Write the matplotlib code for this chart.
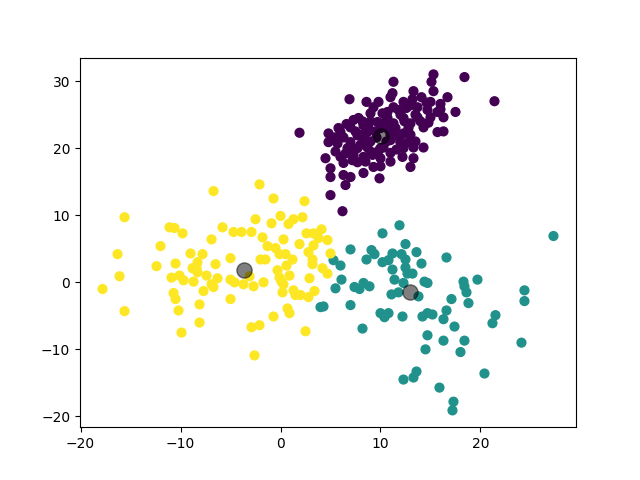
import numpy as np
import matplotlib
matplotlib.use("Agg")
import matplotlib.pyplot as plt

# cluster 0 (purple)
c0 = [(15.3,31),(18.4,30.6),(15.1,29.9),(11.3,29.9),(15.3,28.5),(13.3,28.5),(11.2,28.2),(11,27.6),
      (21.4,27),(6.9,27.3),(14.1,27.6),(16.7,27.6),(8.6,26.9),(9.8,26.9),(12.3,26.9),(15,26.9),
      (16,26.6),(9.3,26.1),(11.3,26.1),(13,26.4),(13.7,26.1),(17.5,25.4),(10.7,25.4),(11.8,25.7),
      (14.7,25.7),(15.7,25.4),(9,25.2),(7.8,24.5),(7.3,24.2),(10.7,24.5),(12.3,24.5),(13.7,24.6),
      (15,24.6),(16.3,24.6),(9.7,23.9),(11.3,23.7),(13,23.7),(14.3,23.1),(8.3,23.4),(7,23.1),
      (5.8,23),(4.8,22.2),(15.7,22.4),(16.3,22.5),(6.3,21.6),(7.7,21.9),(8.7,22.4),(11.3,22.4),
      (12.3,22.2),(4.8,20.9),(5.7,20.7),(7,20.9),(8.3,21.2),(11,21.2),(12,20.9),(12.8,20.9),
      (6.7,20),(7.7,20),(8.7,20.1),(10.3,20.1),(12.3,20),(13.3,20.1),(14.3,20.1),(4.5,18.5),
      (6,18.7),(7.3,19),(8.3,18.7),(9.2,19),(11,19.3),(12.2,18.7),(13.3,18.5),(6.3,17.8),
      (7.7,17.9),(9.3,17.2),(10,17.3),(13,17.2),(5,17),(8.3,16.3),(6.3,16),(7,15.7),(5,15.7),
      (9.9,15.5),(6.5,14.5),(5,13),(6.2,10.6),(1.9,22.3),
      (8,22),(9,21),(10,23),(11,22),(9,24),(10,20),(12,21),(8,20.5),(9.5,22.5),(11.5,23),
      (7.5,22.5),(10.5,24),(13,22),(12,25),(14,24),(8.5,18),(9,19.5),(11,18),(10,18.5),(13.5,21),
      (6.5,19.2),(7.2,18.2),(5.5,19.5),(6,22.4),(8.8,23),(9.6,21.6),(10.8,22.8),(11.8,21.8),
      (12.8,23),(13.5,25),(14.8,23.8),(16,25.8),(12.6,26),(10.2,25.2),(8.2,24),(7,20.2),
      (9.8,19.6),(11.6,19.8),(10.6,21),(12.4,24),(14.6,26.8),(13.2,27.3),(6.6,23.6),(5.4,21.6)]

# cluster 1 (teal)
c1 = [(5.3,3.3),(6,2.5),(6.1,0.4),(5.5,-0.9),(4,-3.7),(4.3,-3.6),(7,4.9),(7,-3.4),
      (11.9,8.5),(10.2,7.3),(27.3,6.9),(12.5,5.7),(9.1,4.8),(9.4,4.2),(11.2,4.3),(12.1,4.2),
      (13.6,4.5),(8.6,3.4),(10.2,3.0),(10.8,3.3),(12.5,3.4),(16.6,3.7),(14.1,2.8),(11.2,1.9),
      (12.5,2.2),(12.7,1.3),(13.2,1.3),(11.4,0.4),(12.3,-0.1),(14.4,0.1),(14.7,-0.1),(18.3,0.1),
      (19.7,0.4),(7.4,-0.7),(7.9,-1.0),(8.3,-0.1),(8.9,-0.6),(18.4,-0.6),(18.6,-1.5),(11.1,-1.8),
      (11.8,-1.5),(13.8,-2.1),(17.1,-2.5),(18.8,-3.1),(24.4,-1.2),(24.4,-2.8),(10,-4.6),(10.4,-5.2),
      (10.8,-4.6),(12.2,-5.1),(14.2,-5.1),(14.7,-4.6),(15.2,-4.8),(16.3,-5.5),(16.6,-4.2),(17.4,-6.6),
      (21.5,-4.9),(21.2,-6.1),(8.2,-6.9),(14.7,-7.9),(16.3,-8.7),(18.4,-8.7),(14.5,-10),(18,-10.4),
      (24.1,-9),(13.6,-13.3),(13.3,-14.2),(12.3,-14.5),(20.4,-13.6),(15.9,-15.7),(17.3,-17.8),(17.2,-19.1)]

# cluster 2 (yellow)
c2 = [(-2.1,14.6),(-6.7,13.6),(-0.7,12.5),(2.4,12.1),(-15.6,9.7),(-2.5,9.4),(0,9.9),(2.2,9.7),
      (-0.9,8.8),(1.3,9.4),(0.8,8.7),(-11.1,8.2),(-10.6,8.1),(-9.8,7.3),(-5.8,8.2),(-4.7,7.5),
      (-3.9,7.5),(-2.9,7.5),(-6.9,6.4),(-1.8,6.7),(0.3,6.4),(2.6,7.3),(3.3,7.3),(4.1,7.9),
      (3.8,6.6),(4.7,6.3),(-12,5.4),(-1.3,5.4),(-0.5,5.1),(1.9,5.7),(3.3,5.5),(-16.3,4.2),
      (-9,4.3),(-7.8,4.2),(-0.1,4.2),(0.5,4.2),(2.8,4.5),(5,4.3),(-5,3.6),(-2,3.4),(-1.5,3.4),
      (1.2,3.4),(3.2,3.4),(-10.5,2.8),(-8.3,3),(-6.5,2.7),(-12.4,2.4),(0.6,2.5),(3.2,2.7),
      (-8.8,2.1),(-8.4,2.2),(-8.3,1.5),(4.2,2.1),(-16.1,0.9),(-10.9,0.7),(-10.1,1.0),(-9.7,0.3),
      (-7.4,1.0),(-6.3,0.6),(-0.3,1.8),(-0.1,0.7),(0.9,1.0),(4.7,1.3),(-8.7,0.1),(-6.9,-0.3),
      (-6.7,-0.7),(-5,0.4),(-4.6,0),(-3.7,-0.3),(-3.1,0.9),(-2.7,-0.6),(-1.7,0),(0.1,0.1),
      (0.3,-0.3),(2.9,0.6),(-17.8,-1.0),(-10.7,-1.6),(-10.5,-2.5),(-7.7,-1.3),(0.2,-1.5),
      (1.3,-1.2),(1.5,-1.9),(2,-1.9),(2.8,-2.2),(3.4,-1.3),(-5,-2.5),(-15.6,-4.3),(-10.2,-4.2),
      (-8.1,-3.3),(0.7,-3.9),(0.9,-4.6),(-0.7,-5.1),(-8.1,-6),(-2.9,-6.7),(-2.1,-6.4),(2.5,-7.3),
      (-9.9,-7.5),(-2.6,-10.9)]

centers_x = [10.1, 13.0, -3.7]
centers_y = [21.8, -1.5, 1.9]

pts = np.array(c0 + c1 + c2)
labels = np.array([0] * len(c0) + [1] * len(c1) + [2] * len(c2))

fig, ax = plt.subplots(figsize=(6.4, 4.8), dpi=100)
ax.scatter(pts[:, 0], pts[:, 1], c=labels, s=40, cmap='viridis')
ax.scatter(centers_x, centers_y, c='black', s=120, alpha=0.5)
fig.savefig('out.png')
